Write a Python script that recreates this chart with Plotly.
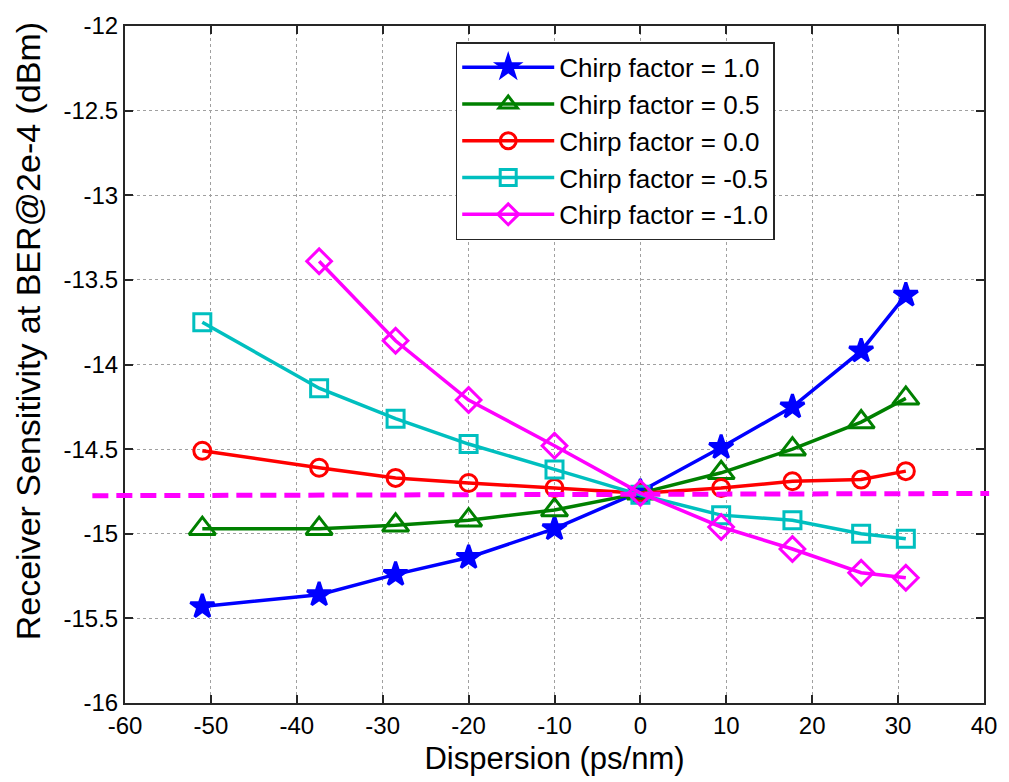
import plotly.graph_objects as go

dispersion = [-51.0, -37.4, -28.5, -20.0, -10.0, 0.0, 9.4, 17.7, 25.7, 30.9]
disp_m10 = [-37.4, -28.5, -20.0, -10.0, 0.0, 9.4, 17.7, 25.7, 30.9]

chirp_p10 = [-15.43, -15.36, -15.24, -15.14, -14.97, -14.75, -14.49, -14.25, -13.92, -13.59]
chirp_p05 = [-14.97, -14.97, -14.95, -14.92, -14.86, -14.76, -14.64, -14.50, -14.34, -14.20]
chirp_00 = [-14.51, -14.61, -14.67, -14.70, -14.73, -14.76, -14.73, -14.69, -14.68, -14.63]
chirp_m05 = [-13.75, -14.14, -14.32, -14.47, -14.62, -14.77, -14.89, -14.92, -15.00, -15.03]
chirp_m10 = [-13.39, -13.86, -14.21, -14.48, -14.76, -14.96, -15.09, -15.23, -15.26]

threshold_x = [-63.8, 40.6]
threshold_y = [-14.775, -14.762]

x_ticks = [-60, -50, -40, -30, -20, -10, 0, 10, 20, 30, 40]
x_ticktext = ["-60", "-50", "-40", "-30", "-20", "-10", "0", "10", "20", "30", "40"]
y_ticks = [-16, -15.5, -15, -14.5, -14, -13.5, -13, -12.5, -12]
y_ticktext = ["-16", "-15.5", "-15", "-14.5", "-14", "-13.5", "-13", "-12.5", "-12"]

X_RANGE = [-60, 40]
Y_RANGE = [-16, -12]

FONT = "Liberation Sans, Arial"

series = [
    ("Chirp factor = 1.0", dispersion, chirp_p10, "#0000FF", "star", 18),
    ("Chirp factor = 0.5", dispersion, chirp_p05, "#008000", "triangle-up-open", 23),
    ("Chirp factor = 0.0", dispersion, chirp_00, "#FF0000", "circle-open", 17),
    ("Chirp factor = -0.5", dispersion, chirp_m05, "#00BFBF", "square-open", 17),
    ("Chirp factor = -1.0", disp_m10, chirp_m10, "#FF00FF", "diamond-open", 19),
]

fig = go.Figure()
for i, (name, xs, ys, col, sym, sz) in enumerate(series):
    fig.add_trace(go.Scatter(
        x=xs, y=ys, name=name, mode="lines+markers",
        line=dict(color=col, width=3.5),
        marker=dict(symbol=sym, size=sz, color=col, line=dict(color=col, width=3)),
        legendgroup=f"g{i}", cliponaxis=False,
    ))

def to_paper(v):
    return (v - X_RANGE[0]) / (X_RANGE[1] - X_RANGE[0])

fig.add_shape(type="line", xref="paper", yref="y",
              x0=to_paper(threshold_x[0]), x1=to_paper(threshold_x[1]),
              y0=threshold_y[0], y1=threshold_y[1],
              line=dict(color="#FF00FF", width=5, dash="16px,8px"), layer="above")

axis_common = dict(
    showline=True, linecolor="#262626", linewidth=2, mirror="ticks",
    ticks="inside", ticklen=8, tickwidth=1.5, tickcolor="#262626",
    showgrid=True, gridcolor="#A0A0A0", griddash="dot", gridwidth=1.2,
    zeroline=False, tickfont=dict(family=FONT, size=24, color="#000"),
)

fig.add_annotation(text="Receiver Sensitivity at BER@2e-4 (dBm)", textangle=-90,
                   xref="paper", yref="paper", x=-0.113, y=0.549,
                   xanchor="center", yanchor="middle", showarrow=False,
                   font=dict(family=FONT, size=34, color="#000"))

fig.update_layout(
    width=1009, height=782,
    margin=dict(l=125, r=17, t=20, b=79),
    paper_bgcolor="white", plot_bgcolor="white",
    font=dict(family=FONT, color="#000"),
    xaxis=dict(range=X_RANGE, tickmode="array", tickvals=x_ticks, ticktext=x_ticktext,
               title=dict(text="Dispersion (ps/nm)", font=dict(size=31), standoff=10),
               **axis_common),
    yaxis=dict(range=Y_RANGE, tickmode="array", tickvals=y_ticks, ticktext=y_ticktext,
               **axis_common),
    legend=dict(x=0.385, y=0.976, xanchor="left", yanchor="top",
                bgcolor="white", bordercolor="#262626", borderwidth=1.5,
                font=dict(size=26, family=FONT),
                tracegroupgap=0, itemwidth=92),
    showlegend=True,
)

fig.write_html("out.html")
